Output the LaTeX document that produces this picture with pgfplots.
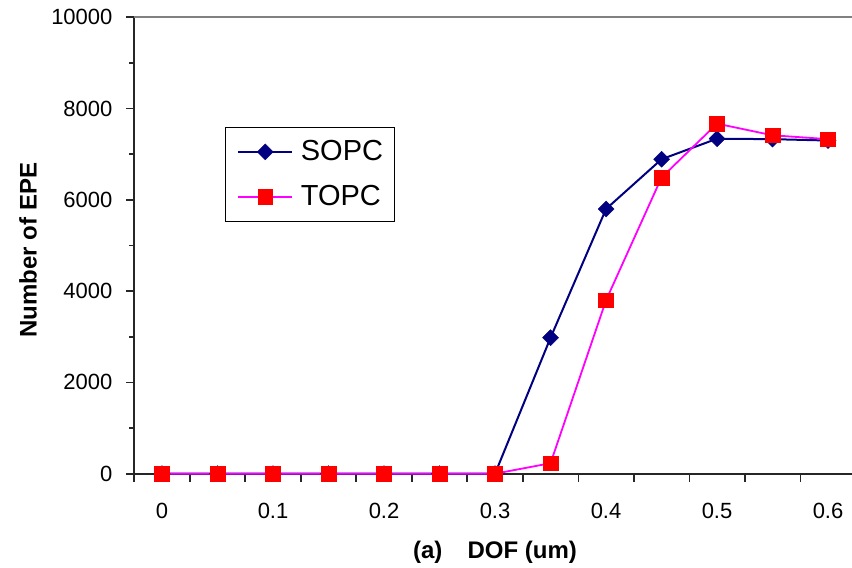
\documentclass[border=0pt]{standalone}
\usepackage{pgfplots}
\pgfplotsset{compat=1.18}
\usepackage{fontspec}
\setmainfont{Liberation Sans}
\definecolor{sopc}{HTML}{000080}
\definecolor{topcl}{HTML}{FF00FF}
\definecolor{topcm}{HTML}{FF0000}
\begin{document}
\begin{tikzpicture}
\begin{axis}[
  scale only axis, width=360.75pt, height=228.2pt,
  at={(0,0)}, anchor=south west,
  xmin=-0.5, xmax=12.5, ymin=0, ymax=10000,
  axis x line*=bottom, axis y line*=left,
  axis line style={black!85, line width=0.8pt, -},
  clip=false,
  xtick={-0.5,0.5,...,12.5},
  xticklabels={{},{},{},{},{},{},{},{},{},{},{},{},{},{},{}},
  extra x ticks={0,2,...,12},
  extra x tick labels={0,0.1,0.2,0.3,0.4,0.5,0.6},
  extra x tick style={major tick length=0pt},
  ytick={0,2000,...,10000}, minor ytick={1000,3000,...,9000},
  tick align=outside, major tick length=3.9pt, minor tick length=2.5pt,
  tick style={black!85, line width=0.8pt},
  scaled y ticks=false,
  /pgf/number format/assume math mode=true,
  /pgf/number format/1000 sep={},
  tick label style={font=\fontsize{11}{13}\selectfont},
  xticklabel style={anchor=base, yshift=-22.3pt},
  yticklabel style={anchor=east, xshift=-3.5pt},
  xlabel={(a)\hspace{1.05em}DOF (um)},
  xlabel style={font=\bfseries\fontsize{12}{14}\selectfont, at={(axis description cs:0.5,-0.1854)}, anchor=base},
  ylabel={Number of EPE},
  ylabel style={font=\bfseries\fontsize{12}{14}\selectfont, at={(axis description cs:-0.1353,0.490)}, anchor=base},
  legend style={at={(0.1257,0.7596)}, anchor=north west, draw=black, line width=0.6pt, fill=white,
    font=\fontsize{14.5}{17}\selectfont, inner xsep=5.8pt, inner ysep=6.3pt, row sep=11pt,
    column sep=3.85pt, nodes={inner sep=0pt}, cells={anchor=west}},
  legend image code/.code={\draw[mark repeat=2,mark phase=2,#1] plot coordinates {(0pt,0pt) (13.5pt,0pt) (27pt,0pt)};},
]
\draw[color=black!50, line width=1.1pt] (rel axis cs:0,1) -- (rel axis cs:1,1);
\addplot[color=sopc, line width=1pt, mark=square*, mark size=2.83pt,
  mark options={solid, rotate=45, fill=sopc, draw=sopc, line width=0.2pt}]
  coordinates {(0,0) (1,0) (2,0) (3,0) (4,0) (5,0) (6,0) (7,2980) (8,5800) (9,6890) (10,7340) (11,7330) (12,7300)};
\addlegendentry{SOPC}
\addplot[color=topcl, line width=0.9pt, mark=square*, mark size=3.7pt,
  mark options={solid, fill=topcm, draw=topcm, line width=0.2pt}]
  coordinates {(0,0) (1,0) (2,0) (3,0) (4,0) (5,0) (6,0) (7,230) (8,3800) (9,6490) (10,7670) (11,7415) (12,7330)};
\addlegendentry{TOPC}
\end{axis}
\pgfresetboundingbox
\path[use as bounding box] (-67.15pt,-47.15pt) rectangle (358.85pt,236.85pt);
\end{tikzpicture}
\end{document}
